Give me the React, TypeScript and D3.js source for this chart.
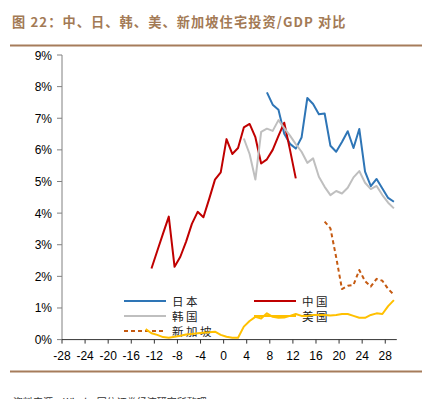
import React from 'react';
import * as d3 from 'd3';

// periods (years relative to the peak); each point sits in the middle of its period
const chinaT = [-13, -12, -11, -10, -9, -8, -7, -6, -5, -4, -3, -2, -1, 0, 1, 2, 3, 4, 5, 6, 7, 8, 9, 10, 11, 12];
const chinaV = [2.25, 2.8, 3.35, 3.89, 2.3, 2.62, 3.1, 3.66, 4.04, 3.87, 4.45, 5.06, 5.29, 6.34, 5.87, 6.06, 6.71, 6.82, 6.4, 5.57, 5.7, 6.0, 6.44, 6.86, 6.0, 5.1];

const japanT = [7, 8, 9, 10, 11, 12, 13, 14, 15, 16, 17, 18, 19, 20, 21, 22, 23, 24, 25, 26, 27, 28, 29];
const japanV = [7.82, 7.43, 7.27, 6.51, 6.19, 6.04, 6.39, 7.64, 7.45, 7.13, 7.15, 6.13, 5.94, 6.25, 6.59, 6.06, 6.66, 5.31, 4.85, 5.08, 4.78, 4.48, 4.36];

const koreaT = [3, 4, 5, 6, 7, 8, 9, 10, 11, 12, 13, 14, 15, 16, 17, 18, 19, 20, 21, 22, 23, 24, 25, 26, 27, 28, 29];
const koreaV = [6.36, 5.87, 5.06, 6.57, 6.67, 6.6, 6.94, 6.69, 6.45, 6.18, 5.94, 5.59, 5.73, 5.15, 4.83, 4.57, 4.7, 4.62, 4.8, 5.13, 5.33, 4.96, 4.76, 4.86, 4.57, 4.33, 4.15];

const usT = [-14, -13, -12, -11, -10, -9, -8, -7, -6, -5, -4, -3, -2, -1, 0, 1, 2, 3, 4, 5, 6, 7, 8, 9, 10, 11, 12, 13, 14, 15, 16, 17, 18, 19, 20, 21, 22, 23, 24, 25, 26, 27, 28, 29];
const usV = [0.33, 0.2, 0.15, 0.08, 0.06, 0.09, 0.12, 0.16, 0.18, 0.2, 0.22, 0.23, 0.25, 0.15, 0.09, 0.06, 0.06, 0.41, 0.59, 0.72, 0.67, 0.83, 0.72, 0.69, 0.7, 0.75, 0.81, 0.75, 0.75, 0.78, 0.78, 0.78, 0.76, 0.78, 0.81, 0.81, 0.75, 0.69, 0.69, 0.78, 0.83, 0.81, 1.06, 1.25];

const singaporeT = [17, 18, 19, 20, 21, 22, 23, 24, 25, 26, 27, 28, 29];
const singaporeV = [3.73, 3.52, 2.6, 1.6, 1.7, 1.73, 2.2, 1.85, 1.68, 1.92, 1.86, 1.6, 1.42];

const xTicks = [-28, -24, -20, -16, -12, -8, -4, 0, 4, 8, 12, 16, 20, 24, 28];
const yTicks = [0, 1, 2, 3, 4, 5, 6, 7, 8, 9];

const series = [
  { name: '日本', t: japanT, v: japanV, color: '#2e75b6', dash: null },
  { name: '中国', t: chinaT, v: chinaV, color: '#c00000', dash: null },
  { name: '韩国', t: koreaT, v: koreaV, color: '#bfbfbf', dash: null },
  { name: '美国', t: usT, v: usV, color: '#ffc000', dash: null },
  { name: '新加坡', t: singaporeT, v: singaporeV, color: '#c55a11', dash: '4,3' },
];

const W = 436;
const H = 399;
const margin = { top: 55, right: 39.2, bottom: 59.4, left: 62 };

const App = () => {
  const x = d3.scaleLinear().domain([-28, 30]).range([margin.left, W - margin.right]);
  const y = d3.scaleLinear().domain([0, 9]).range([H - margin.bottom, margin.top]);

  const line = d3
    .line<[number, number]>()
    .x((d) => x(d[0] + 0.5))
    .y((d) => y(d[1]));

  const legendOrder = [
    { s: series[0], col: 0, row: 0 },
    { s: series[1], col: 1, row: 0 },
    { s: series[2], col: 0, row: 1 },
    { s: series[3], col: 1, row: 1 },
    { s: series[4], col: 0, row: 2 },
  ];

  const y0 = y(0);

  return (
    <svg width={W} height={H} style={{ position: 'absolute', left: 0, top: 0 }}>
      <style>{'body{margin:0}'}</style>
      <text
        x={12}
        y={27}
        fontFamily="'Noto Sans CJK SC', sans-serif"
        fontSize={13.2}
        fontWeight="bold"
        letterSpacing={1.1}
        fill="#a37a55"
      >
        图 22：中、日、韩、美、新加坡住宅投资/GDP 对比
      </text>
      <line x1={10} x2={422} y1={45.5} y2={45.5} stroke="#a67c5b" strokeWidth={2} />

      {/* y axis */}
      <line x1={margin.left} x2={margin.left} y1={y(9)} y2={y0} stroke="#808080" strokeWidth={1} />
      {yTicks.map((t) => (
        <g key={t}>
          <line x1={margin.left - 5} x2={margin.left} y1={y(t)} y2={y(t)} stroke="#808080" />
          <text
            x={margin.left - 10}
            y={y(t) + 4.5}
            textAnchor="end"
            fontFamily="'Liberation Sans', Arial, sans-serif"
            fontSize={12}
            fill="#000"
          >
            {t}%
          </text>
        </g>
      ))}

      {/* x axis */}
      <line x1={margin.left} x2={x(30)} y1={y0} y2={y0} stroke="#333" strokeWidth={1} />
      {xTicks.map((t) => (
        <g key={t}>
          <line x1={x(t)} x2={x(t)} y1={y0} y2={y0 + 4} stroke="#333" />
          <text
            x={x(t)}
            y={y0 + 20.5}
            textAnchor="middle"
            fontFamily="'Liberation Sans', Arial, sans-serif"
            fontSize={12}
            fill="#000"
          >
            {t}
          </text>
        </g>
      ))}

      {/* legend */}
      {legendOrder.map(({ s, col, row }) => {
        const lx = col === 0 ? 124 : 254;
        const ly = 301 + row * 15;
        return (
          <g key={s.name}>
            <line
              x1={lx}
              x2={lx + 42}
              y1={ly}
              y2={ly}
              stroke={s.color}
              strokeWidth={2}
              strokeDasharray={s.dash || undefined}
            />
            <text
              x={lx + 48}
              y={ly + 4.5}
              fontFamily="'Noto Sans CJK SC', sans-serif"
              fontSize={11.5}
              letterSpacing={2.5}
              fill="#222"
            >
              {s.name}
            </text>
          </g>
        );
      })}

      {/* series */}
      {series.map((s) => (
        <path
          key={s.name}
          d={line(s.t.map((t, i) => [t, s.v[i]] as [number, number])) || ''}
          fill="none"
          stroke={s.color}
          strokeWidth={2}
          strokeDasharray={s.dash || undefined}
          strokeLinejoin="round"
        />
      ))}

      <line x1={10} x2={422} y1={371.5} y2={371.5} stroke="#a67c5b" strokeWidth={2} />
      <text
        x={13}
        y={406}
        fontFamily="'Noto Sans CJK SC', sans-serif"
        fontSize={10}
        fill="#333"
      >
        资料来源：Wind，国信证券经济研究所整理
      </text>
    </svg>
  );
};

export default App;
